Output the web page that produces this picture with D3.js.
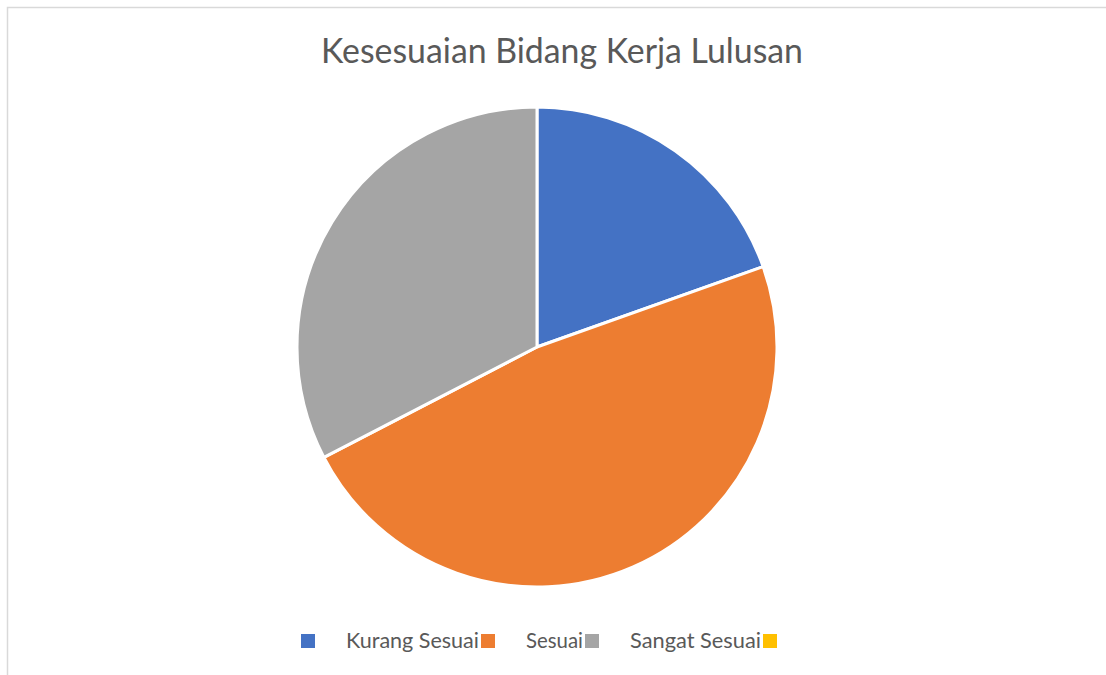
<!DOCTYPE html>
<html>
<head>
<meta charset="utf-8">
<script src="https://cdn.jsdelivr.net/npm/d3@7"></script>
<style>
  html, body { margin: 0; padding: 0; background: #ffffff; }
  svg { display: block; }
</style>
</head>
<body>
<svg id="chart" width="1106" height="675"></svg>
<script>
// ---- data ----
const title = "Kesesuaian Bidang Kerja Lulusan";
const categories = ["Kurang Sesuai", "Sesuai", "Sangat Sesuai", ""];
const values = [9, 22, 15, 0];
const colors = ["#4472C4", "#ED7D31", "#A5A5A5", "#FFC000"];

// ---- layout ----
const W = 1106, H = 675;
const cx = 537, cy = 347, radius = 240;
const fontFamily = "Lato, 'Open Sans', sans-serif";
const titleWidth = 482;
const legendTextWidths = [133, 57, 131, 0];

const svg = d3.select("#chart");

// chart border
svg.append("rect")
  .attr("x", 7.5).attr("y", 7.5)
  .attr("width", 1120).attr("height", 700)
  .attr("fill", "none")
  .attr("stroke", "#d9d9d9")
  .attr("stroke-width", 1.5);

// title
svg.append("text")
  .attr("x", 562).attr("y", 63)
  .attr("text-anchor", "middle")
  .attr("font-family", fontFamily)
  .attr("font-size", 34)
  .attr("fill", "#595959")
  .attr("textLength", titleWidth)
  .attr("lengthAdjust", "spacingAndGlyphs")
  .text(title);

// pie
const data = categories.map((c, i) => ({ cat: c, value: values[i], color: colors[i] }));
const pie = d3.pie().value(d => d.value).sort(null);
const arc = d3.arc().innerRadius(0).outerRadius(radius);

svg.append("g")
  .attr("transform", `translate(${cx},${cy})`)
  .selectAll("path")
  .data(pie(data).filter(d => d.data.value > 0))
  .join("path")
  .attr("d", arc)
  .attr("fill", d => d.data.color)
  .attr("stroke", "#ffffff")
  .attr("stroke-width", 3)
  .attr("stroke-linejoin", "round");

// legend
const legend = svg.append("g");
let x = 301;
const sq = 14, sqTop = 634, baseline = 648;
data.forEach((d, i) => {
  legend.append("rect")
    .attr("x", x).attr("y", sqTop)
    .attr("width", sq).attr("height", sq)
    .attr("fill", d.color);
  x += sq;
  if (d.cat) {
    x += 31;
    legend.append("text")
      .attr("x", x).attr("y", baseline)
      .attr("font-family", fontFamily)
      .attr("font-size", 21)
      .attr("fill", "#595959")
      .attr("textLength", legendTextWidths[i])
      .attr("lengthAdjust", "spacingAndGlyphs")
      .text(d.cat);
    x += legendTextWidths[i] + 2;
  }
});
</script>
</body>
</html>
